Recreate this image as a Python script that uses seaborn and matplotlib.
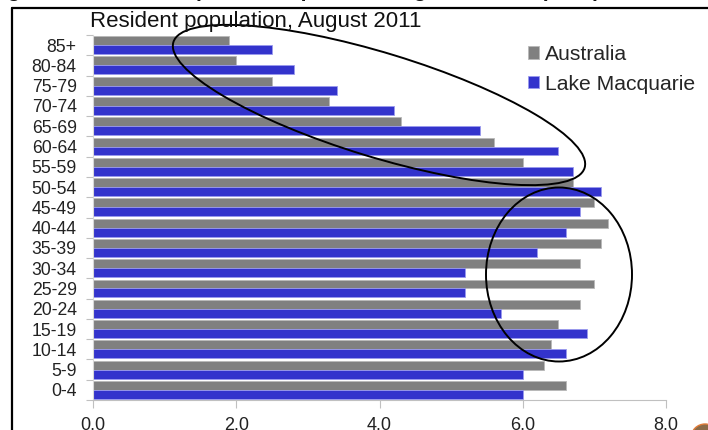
import matplotlib
matplotlib.use("Agg")
import matplotlib.pyplot as plt
import pandas as pd
import seaborn as sns
from matplotlib.patches import Ellipse, Circle
from matplotlib.lines import Line2D
from matplotlib.transforms import IdentityTransform
from matplotlib.ticker import FixedLocator, FormatStrFormatter

# Share of resident population (%) by five-year age group
age_groups = ["85+", "80-84", "75-79", "70-74", "65-69", "60-64", "55-59",
              "50-54", "45-49", "40-44", "35-39", "30-34", "25-29", "20-24",
              "15-19", "10-14", "5-9", "0-4"]
australia = [1.9, 2.0, 2.5, 3.3, 4.3, 5.6, 6.0, 6.7, 7.0, 7.2, 7.1, 6.8,
             7.0, 6.8, 6.5, 6.4, 6.3, 6.6]
lake_macquarie = [2.5, 2.8, 3.4, 4.2, 5.4, 6.5, 6.7, 7.1, 6.8, 6.6, 6.2, 5.2,
                  5.2, 5.7, 6.9, 6.6, 6.0, 6.0]
series_names = ["Australia", "Lake Macquarie"]
x_ticks = [0, 2, 4, 6, 8]

subtitle = "Resident population, August 2011"
heading = "Figure 12: Lake Macquarie comparison \u2013 Age structure (2011)"

df = pd.DataFrame({
    "age": age_groups * 2,
    "pct": australia + lake_macquarie,
    "series": [series_names[0]] * len(age_groups) + [series_names[1]] * len(age_groups),
})

GRAY = "#808080"
BLUE = "#3333cc"
AXIS_GRAY = "#c0c0c0"

sns.set_style("white")
plt.rcParams["font.family"] = ["Liberation Sans", "DejaVu Sans"]

W, H = 708, 430
fig = plt.figure(figsize=(W / 100, H / 100), dpi=100)
ax = fig.add_axes([93.3 / W, 30 / H, (665.7 - 93.3) / W, 365 / H])

sns.barplot(data=df, y="age", x="pct", hue="series", order=age_groups,
            hue_order=series_names, palette=[GRAY, BLUE], saturation=1,
            width=0.88, orient="h", errorbar=None, ax=ax)

# thin light outline around each bar
for p in ax.patches:
    fc = p.get_facecolor()
    if abs(fc[2] - fc[0]) > 0.2:
        p.set_edgecolor("#9a9aee")
    else:
        p.set_edgecolor("#b8b8b8")
    p.set_linewidth(0.6)

handles, labels = ax.get_legend_handles_labels()
if ax.legend_ is not None:
    ax.legend_.remove()

ax.set_xlim(0, 8)
ax.set_xticks(x_ticks)
ax.xaxis.set_major_formatter(FormatStrFormatter("%.1f"))
ax.set_xlabel("")
ax.set_ylabel("")

# ticks between age groups, labels centred on the groups
ax.yaxis.set_minor_locator(FixedLocator([i - 0.5 for i in range(len(age_groups) + 1)]))
ax.tick_params(axis="y", which="major", length=0, pad=12, labelsize=12.7, labelcolor="#222222")
ax.tick_params(axis="y", which="minor", length=5, width=0.8, color=AXIS_GRAY, left=True)
ax.tick_params(axis="x", which="major", length=6, width=0.8, color=AXIS_GRAY,
               bottom=True, pad=6.5, labelsize=13, labelcolor="#222222")

for side in ("top", "right"):
    ax.spines[side].set_visible(False)
ax.spines["bottom"].set_color(AXIS_GRAY)
ax.spines["bottom"].set_linewidth(0.8)
ax.spines["left"].set_color("#d8d8d8")
ax.spines["left"].set_linewidth(0.8)

fig.legend(handles, labels, loc="upper left",
           bbox_to_anchor=(528 / W, (H - 45) / H), bbox_transform=fig.transFigure,
           frameon=False, fontsize=15.2, handlelength=0.5, handleheight=0.5,
           handletextpad=0.3, labelspacing=0.5, borderpad=0, borderaxespad=0)

fig.text(90 / W, (H - 26.7) / H, subtitle, fontsize=16, ha="left", va="baseline",
         color="#111111")
fig.text(-11 / W, (H + 3) / H, heading, fontsize=15, weight="bold",
         ha="left", va="baseline", color="#111111")

# enclosing frame (top and left edges)
fig.add_artist(Line2D([12 / W, 1.0], [(H - 8) / H, (H - 8) / H],
                      transform=fig.transFigure, color="black", lw=1.6))
fig.add_artist(Line2D([12 / W, 12 / W], [0, (H - 8) / H],
                      transform=fig.transFigure, color="black", lw=1.6))

# hand-drawn highlight ellipses (pixel coordinates)
px = IdentityTransform()
fig.add_artist(Ellipse((379, H - 105), 430, 104, angle=-17, fill=False,
                       ec="black", lw=1.4, transform=px, clip_on=False))
fig.add_artist(Ellipse((559, H - 274.5), 146, 174, angle=0, fill=False,
                       ec="black", lw=1.4, transform=px, clip_on=False))
fig.add_artist(Circle((705, -8), 14, fc="#8b6a48", ec="#e07b39", lw=1,
                      transform=px, clip_on=False))

fig.savefig("out.png", dpi=100)
